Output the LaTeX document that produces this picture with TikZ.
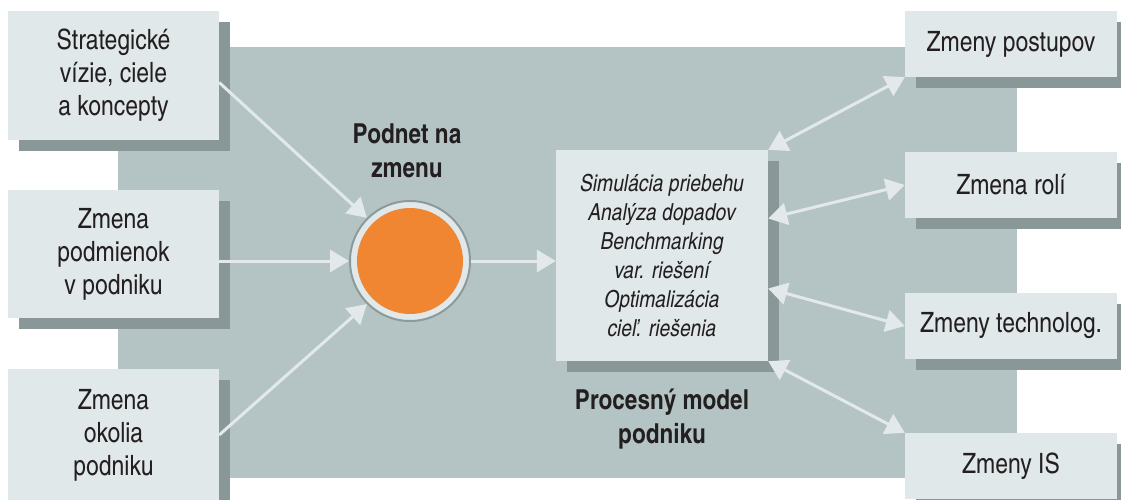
\documentclass[tikz,border=0pt]{standalone}
\usepackage{fontspec}
\setmainfont{texgyreheroscn}[Extension=.otf, UprightFont=*-regular, BoldFont=*-bold, ItalicFont=*-italic, BoldItalicFont=*-bolditalic]
\usetikzlibrary{arrows.meta,shadows}
\definecolor{panelgray}{HTML}{B4C4C4}
\definecolor{boxfill}{HTML}{E1E8EA}
\definecolor{shadegray}{HTML}{8A9799}
\definecolor{arrowfill}{HTML}{E3E9EA}
\definecolor{ringgray}{HTML}{8C9A9B}
\definecolor{impulse}{HTML}{F08532}
\definecolor{ink}{HTML}{231F20}
\tikzset{
	card/.style={fill=boxfill, text=ink, align=center, inner sep=0pt, minimum width=211pt,
		drop shadow={shadow xshift=11pt, shadow yshift=-11pt, fill=shadegray, opacity=1},
		font=\fontsize{28}{33}\selectfont},
	flow/.style={draw=arrowfill, line width=3pt, -{Triangle[length=19pt,width=22pt]}},
	both/.style={flow, {Triangle[length=19pt,width=22pt]}-{Triangle[length=19pt,width=22pt]}},
	title/.style={text=ink, align=center, font=\fontsize{27.5}{34}\selectfont\bfseries}
}
\begin{document}
\begin{tikzpicture}[x=1pt, y=-1pt]
		\useasboundingbox (0,0) rectangle (1121,500);
		\fill[panelgray] (118,47) rectangle (1017,478);
		% inputs
		\node[card, minimum height=129pt] (vision) at (113.5,75.5) {Strategické\\vízie, ciele\\a koncepty};
		\node[card, minimum height=128pt] (inner) at (113.5,254) {Zmena\\podmienok\\v podniku};
		\node[card, minimum height=132pt] (outer) at (113.5,435) {Zmena\\okolia\\podniku};
		% impulse
		\node[circle, draw=ringgray, line width=2pt, fill=boxfill, minimum size=120pt, inner sep=0pt] (ring) at (410,261) {};
		\node[circle, fill=impulse, minimum size=106pt, inner sep=0pt] (core) at (ring) {};
		\node[title] (impulsetext) at (407,151) {Podnet na\\zmenu};
		% process model
		\node[card, minimum width=212pt, minimum height=211pt, font=\fontsize{23.5}{29}\selectfont\itshape] (model) at (662,255.5)
			{Simulácia priebehu\\Analýza dopadov\\Benchmarking\\ var. riešení\\Optimalizácia\\ cieľ. riešenia};
		\node[title] (modeltext) at (662,419) {Procesný model\\podniku};
		% outputs
		\node[card, minimum width=212pt, minimum height=66pt] (steps) at (1011,44) {Zmeny postupov};
		\node[card, minimum width=212pt, minimum height=66pt] (roles) at (1011,185) {Zmena rolí};
		\node[card, minimum width=212pt, minimum height=66pt] (tech) at (1011,326) {Zmeny technolog.};
		\node[card, minimum width=212pt, minimum height=66pt] (is) at (1011,466) {Zmeny IS};
		% connectors
		\draw[flow] ([yshift=-7pt]vision.east) -- (ring.135);
		\draw[flow] (inner.east |- ring) -- (ring.west);
		\draw[flow] (outer.east) -- (ring.225);
		\draw[flow] (ring.east) -- (model.west |- ring);
		\draw[both] (model.north east) -- (steps.south west);
		\draw[both] ([yshift=37pt]model.east) -- (roles.west);
		\draw[both] ([yshift=-33pt]model.east) -- (tech.west);
		\draw[both] (model.south east) -- (is.north west);
	\end{tikzpicture}
\end{document}
